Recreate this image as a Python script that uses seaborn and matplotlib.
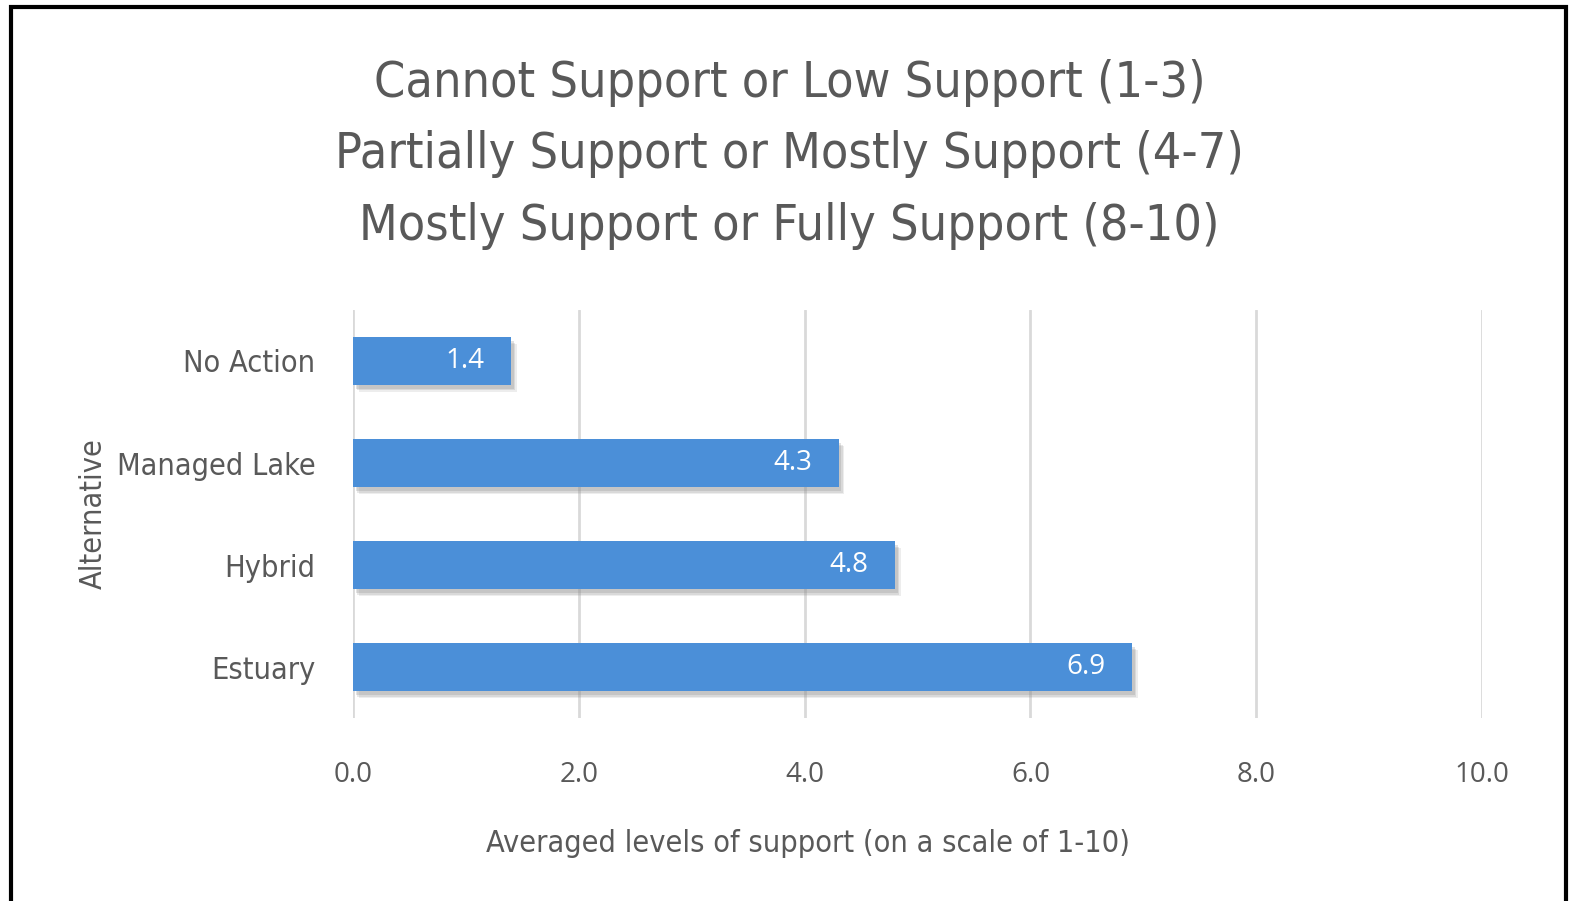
import matplotlib
matplotlib.use("Agg")
import matplotlib.pyplot as plt
import matplotlib.patheffects as pe
from matplotlib.patches import Rectangle
import pandas as pd
import seaborn as sns

# =========================================================
# DATA
# =========================================================

alternatives = ["No Action", "Managed Lake", "Hybrid", "Estuary"]
support = [1.4, 4.3, 4.8, 6.9]
x_ticks = [0, 2, 4, 6, 8, 10]

title_lines = [
    "Cannot Support or Low Support (1-3)",
    "Partially Support or Mostly Support (4-7)",
    "Mostly Support or Fully Support (8-10)",
]

df = pd.DataFrame({"Alternative": alternatives, "Support": support})

# =========================================================
# STYLE
# =========================================================

sns.set_style("white")
plt.rcParams["font.family"] = ["DejaVu Sans"]
plt.rcParams["font.stretch"] = "condensed"

text_grey = "#595959"
bar_blue = "#4b8fd8"

# =========================================================
# FIGURE
# =========================================================

fig = plt.figure(figsize=(15.79, 9.01), dpi=100)
ax = fig.add_axes([0.2236, 0.203, 0.715, 0.453])

sns.barplot(
    data=df,
    x="Support",
    y="Alternative",
    orient="h",
    color=bar_blue,
    saturation=1,
    width=0.47,
    linewidth=0,
    ax=ax,
    zorder=3,
)

# soft drop shadow under each bar
for patch in ax.patches:
    patch.set_path_effects([
        pe.SimplePatchShadow(offset=(4, -5), shadow_rgbFace="#8c8c8c", alpha=0.15),
        pe.SimplePatchShadow(offset=(3, -4), shadow_rgbFace="#8c8c8c", alpha=0.2),
        pe.SimplePatchShadow(offset=(2, -3), shadow_rgbFace="#8c8c8c", alpha=0.25),
        pe.Normal(),
    ])

# value labels inside the bar end
for i, v in enumerate(support):
    ax.annotate(
        f"{v:.1f}",
        xy=(v, i),
        xytext=(-19, 0),
        textcoords="offset points",
        ha="right",
        va="center",
        color="white",
        fontsize=20,
        family="Open Sans",
        fontstretch="normal",
        zorder=5,
    )

ax.set_xlim(0, 10)
ax.set_xticks(x_ticks)
ax.set_xticklabels([f"{t:.1f}" for t in x_ticks], family="Open Sans",
                   fontstretch="normal", fontsize=20, color=text_grey)
ax.tick_params(axis="x", length=0, pad=31)
ax.tick_params(axis="y", length=0, pad=27, labelsize=22, labelcolor=text_grey)

ax.grid(axis="x", color="#d9d9d9", linewidth=2, zorder=0)
ax.grid(axis="y", visible=False)
for s in ax.spines.values():
    s.set_visible(False)

ax.set_xlabel("Averaged levels of support (on a scale of 1-10)",
              fontsize=22, color=text_grey)
ax.xaxis.set_label_coords(0.403, -0.272)
ax.set_ylabel("Alternative", fontsize=22, color=text_grey)
ax.yaxis.set_label_coords(-0.217, 0.5)

fig.text(0.5, 0.829, "\n".join(title_lines), ha="center", va="center",
         fontsize=36, color=text_grey, linespacing=1.62)

# outer frame
fig.patches.append(Rectangle(
    (0.007, -0.01), 0.985, 1.002,
    transform=fig.transFigure, fill=False,
    edgecolor="black", linewidth=3,
))

fig.savefig("out.png", dpi=100)
